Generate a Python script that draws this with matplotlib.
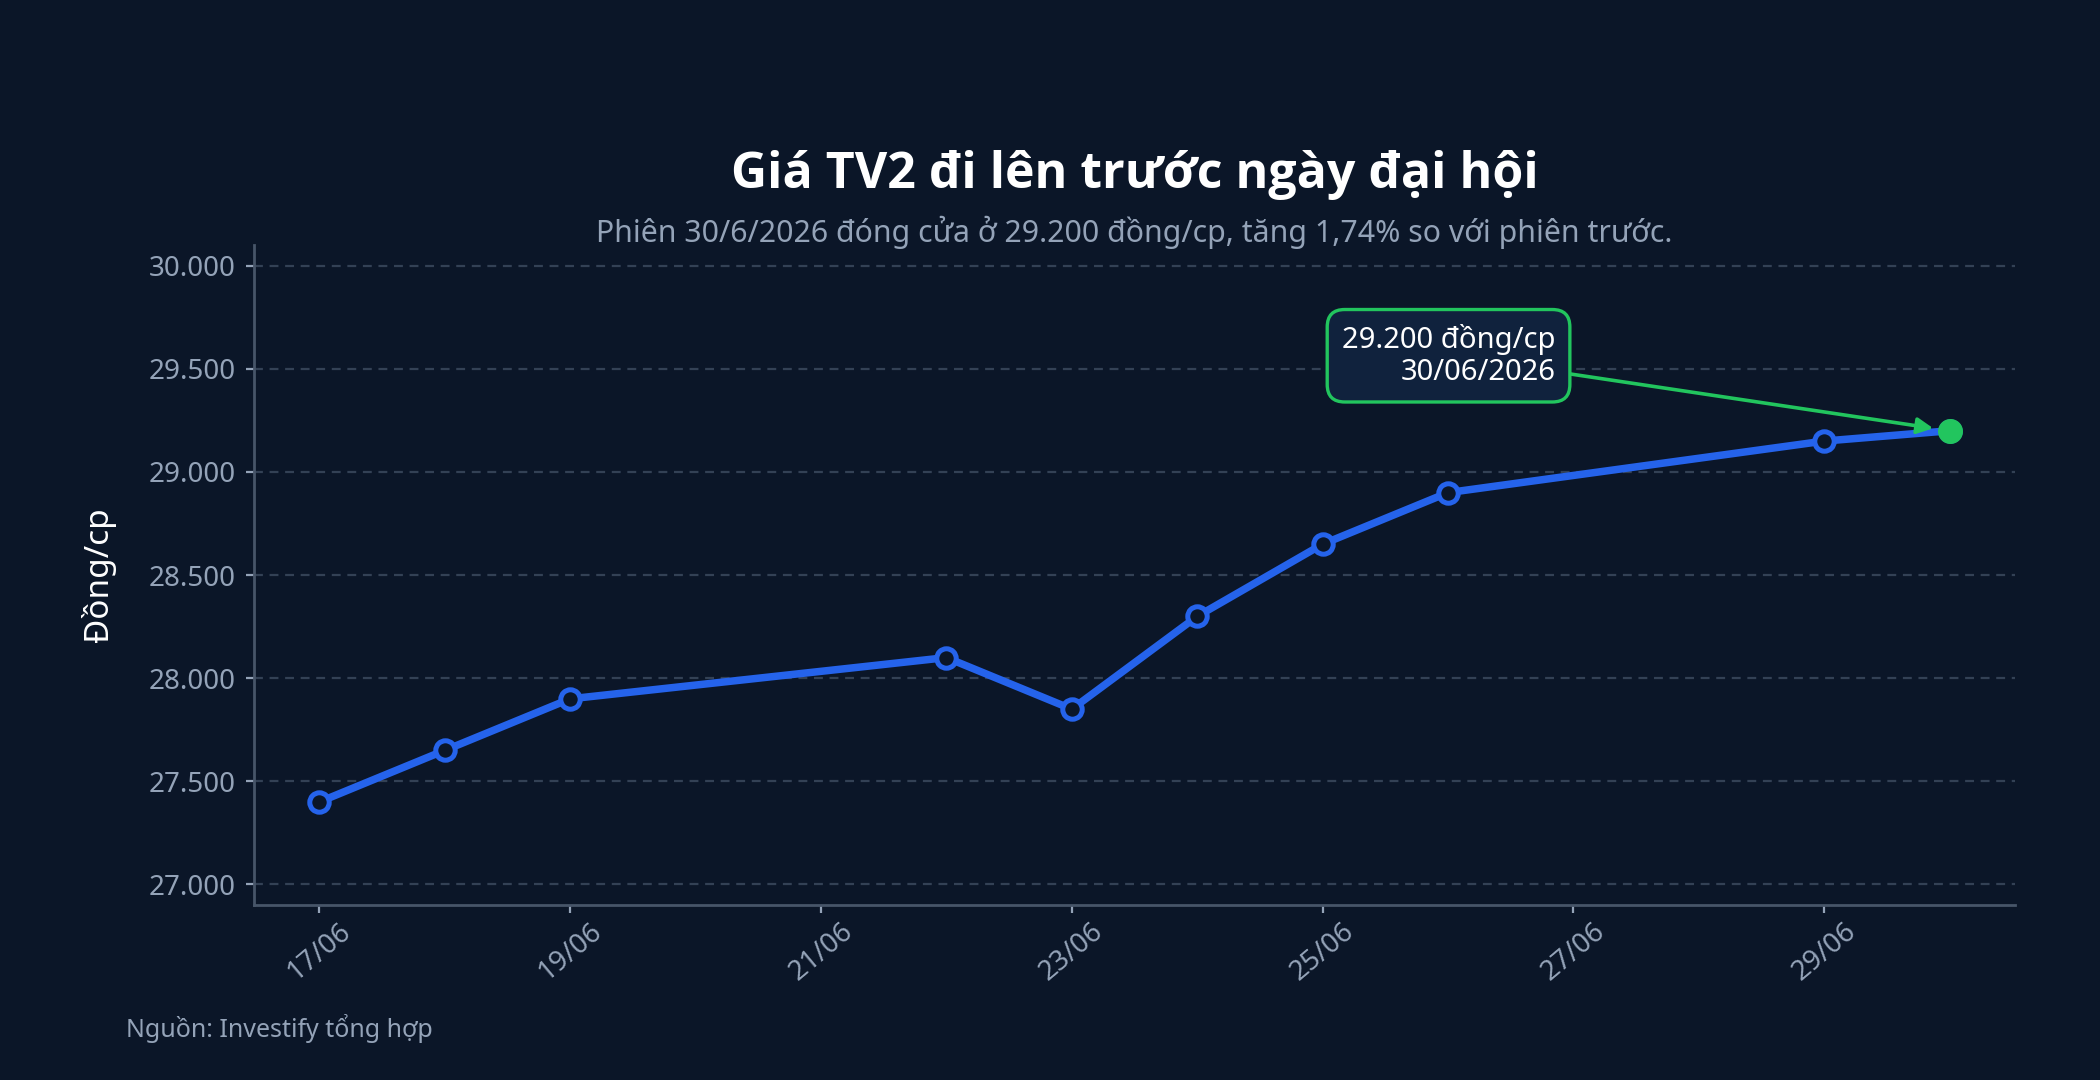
import datetime as dt

import matplotlib
matplotlib.use("Agg")
import matplotlib.pyplot as plt
from matplotlib.ticker import FuncFormatter, MultipleLocator

plt.rcParams["font.family"] = ["Noto Sans", "DejaVu Sans"]

dates = ["17/06", "18/06", "19/06", "22/06", "23/06", "24/06", "25/06", "26/06", "29/06", "30/06"]
prices = [27400, 27650, 27900, 28100, 27850, 28300, 28650, 28900, 29150, 29200]
tick_dates = ["17/06", "19/06", "21/06", "23/06", "25/06", "27/06", "29/06"]
year = 2026

BG = "#0b1628"
BLUE = "#2563eb"
GREEN = "#22c55e"
MUTED = "#94a3b8"
GRID = "#334155"
SPINE = "#475569"


def to_dt(d):
    return dt.datetime(year, int(d[3:]), int(d[:2]))


x = [to_dt(d) for d in dates]

fig = plt.figure(figsize=(10.5, 5.4), dpi=200, facecolor=BG)
ax = fig.add_axes([0.121, 0.162, 0.8385, 0.611])
ax.set_facecolor(BG)

ax.plot(x, prices, color=BLUE, lw=2.7, marker="o", ms=7, mfc=BG, mec=BLUE, mew=1.8,
        solid_capstyle="round", zorder=3)
ax.plot(x[-1], prices[-1], "o", color=GREEN, ms=8, zorder=4)

ax.annotate(f"{prices[-1]:,} đồng/cp\n{dates[-1]}/{year}".replace(",", "."),
            xy=(x[-1], prices[-1]), xytext=(-142, 27), textcoords="offset points",
            ha="right", va="center", fontsize=10.5, color="white", linespacing=1.15,
            bbox=dict(boxstyle="round,pad=0.5,rounding_size=0.6", fc="#10223d", ec=GREEN, lw=1.2),
            arrowprops=dict(arrowstyle="-|>", color=GREEN, lw=1.3, shrinkA=0, shrinkB=6,
                            mutation_scale=12),
            zorder=5)

ax.set_xlim(x[0] - dt.timedelta(days=0.52), x[-1] + dt.timedelta(days=0.52))
ax.set_ylim(26900, 30100)
ax.yaxis.set_major_locator(MultipleLocator(500))
ax.yaxis.set_major_formatter(FuncFormatter(lambda v, _: f"{v:,.0f}".replace(",", ".")))
ax.set_xticks([to_dt(d) for d in tick_dates])
ax.set_xticklabels(tick_dates, rotation=40, ha="center")

ax.grid(axis="y", color=GRID, linestyle=(0, (4, 3)), lw=0.8)
ax.set_axisbelow(True)
for s in ["top", "right"]:
    ax.spines[s].set_visible(False)
for s in ["left", "bottom"]:
    ax.spines[s].set_color(SPINE)
    ax.spines[s].set_linewidth(1.0)

ax.tick_params(axis="both", colors=MUTED, labelsize=10, length=3, width=0.8)
ax.tick_params(axis="x", pad=1.5)

ax.set_ylabel("Đồng/cp", color="white", fontsize=12, labelpad=12)

cx = 0.121 + 0.8385 / 2
fig.text(cx, 0.838, "Giá TV2 đi lên trước ngày đại hội", ha="center", va="center",
         fontsize=18, fontweight="bold", color="white", family=["Open Sans", "DejaVu Sans"])
fig.text(cx, 0.785, "Phiên 30/6/2026 đóng cửa ở 29.200 đồng/cp, tăng 1,74% so với phiên trước.",
         ha="center", va="center", fontsize=10.9, color=MUTED)
fig.text(0.06, 0.048, "Nguồn: Investify tổng hợp", ha="left", va="center", fontsize=9, color=MUTED)

fig.savefig("out.png", dpi=200, facecolor=BG)
plt.close(fig)
